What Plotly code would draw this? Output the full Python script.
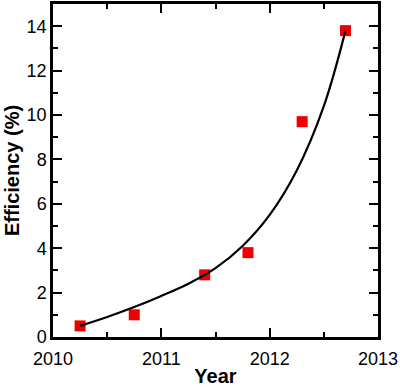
import plotly.graph_objects as go

# Measured data points
years = [2010.25, 2010.75, 2011.4, 2011.8, 2012.3, 2012.7]
efficiency = [0.5, 1.0, 2.8, 3.8, 9.7, 13.8]

# Fitted curve
fit_years = [2010.25, 2010.5, 2010.75, 2011.0, 2011.25, 2011.5, 2011.75, 2012.0, 2012.25, 2012.5, 2012.7]
fit_values = [0.5, 0.9, 1.35, 1.85, 2.4, 3.1, 4.1, 5.5, 7.5, 10.4, 13.8]

x_ticks = [2010, 2011, 2012, 2013]
y_ticks = [0, 2, 4, 6, 8, 10, 12, 14]

font_family = "Liberation Sans, Arial, sans-serif"

fig = go.Figure()
fig.add_trace(go.Scatter(
    x=years, y=efficiency, mode="markers",
    marker=dict(symbol="square", size=11, color="#ee0000", line=dict(width=0)),
    showlegend=False,
))
fig.add_trace(go.Scatter(
    x=fit_years, y=fit_values, mode="lines",
    line=dict(color="black", width=2.2, shape="spline", smoothing=1.0),
    showlegend=False,
))

axis_common = dict(
    showgrid=False, zeroline=False,
    showline=True, linecolor="black", linewidth=2.5,
    mirror="allticks", ticks="inside", ticklen=9, tickwidth=2, tickcolor="black",
    tickfont=dict(family=font_family, size=18, color="black"),
)

fig.update_xaxes(
    range=[2010, 2013], tickvals=x_ticks, ticktext=[str(v) for v in x_ticks],
    minor=dict(dtick=0.5, tick0=2010, ticks="inside", ticklen=5, tickwidth=2, tickcolor="black"),
    title=dict(text="<b>Year</b>", font=dict(family=font_family, size=20, color="black"), standoff=2),
    ticklabelstandoff=4,
    **axis_common,
)
fig.update_yaxes(
    range=[0, 15], tickvals=y_ticks, ticktext=[str(v) for v in y_ticks],
    minor=dict(dtick=1, tick0=0, ticks="inside", ticklen=5, tickwidth=2, tickcolor="black"),
    title=dict(text="<b>Efficiency (%)</b>", font=dict(family=font_family, size=20, color="black"), standoff=2),
    **axis_common,
)

fig.update_layout(
    width=400, height=387,
    margin=dict(l=53, r=22, t=1, b=50),
    plot_bgcolor="white", paper_bgcolor="white",
)

fig.write_html("out.html")
